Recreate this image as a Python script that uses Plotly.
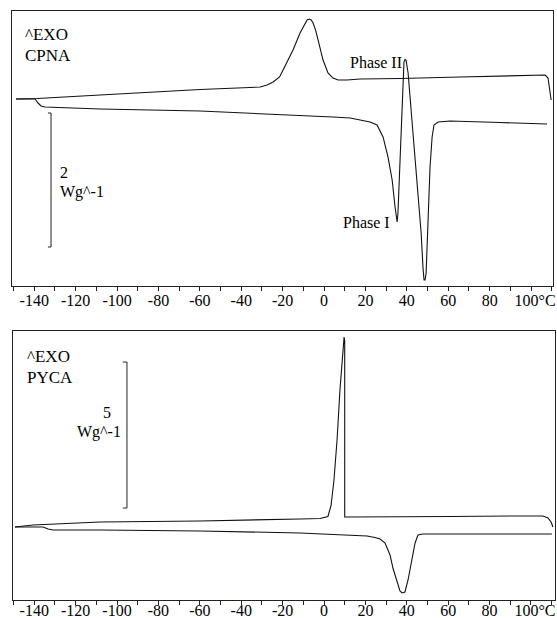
import plotly.graph_objects as go

# ---------------- data (temperature in °C, heat flow in W/g, exo up) ----------------
cpna_cool_T = [-148.8, -138.6, -108.2, -59.9, -30.9, -27.5, -24.6, -21.5, -19.8, -17.4, -15.0, -11.6,
               -9.2, -8.2, -7.2, -6.2, -5.3, -4.1, -2.9, -1.7, -0.5, 1.9, 4.3, 6.8, 11.1, 17.4, 36.7,
               65.7, 94.7, 106.8, 108.2, 109.2, 109.7]
cpna_cool_hf = [2.791, 2.799, 2.851, 2.933, 2.970, 3.000, 3.045, 3.120, 3.224, 3.370, 3.522, 3.776,
                3.925, 3.970, 3.985, 3.970, 3.925, 3.820, 3.672, 3.520, 3.373, 3.179, 3.104, 3.075, 3.075,
                3.090, 3.097, 3.119, 3.142, 3.149, 3.104, 2.925, 2.776]

cpna_heat_T = [-148.8, -139.6, -138.2, -136.7, -134.8, -108.2, -59.9, -27.5, -11.6, 4.3, 12.6, 18.4, 22.2,
               25.6, 28.5, 30.9, 32.9, 34.3, 35.3, 35.7, 37.2, 38.2, 38.6, 39.1, 39.6, 40.6, 42.5, 44.9,
               46.9, 47.8, 48.3, 48.8, 49.3, 50.2, 51.2, 52.2, 53.1, 55.1, 60.9, 85.0, 107.7]
cpna_heat_hf = [2.791, 2.791, 2.731, 2.687, 2.672, 2.642, 2.612, 2.567, 2.552, 2.522, 2.507, 2.478, 2.448,
                2.403, 2.224, 1.925, 1.582, 1.179, 0.955, 1.090, 2.179, 2.925, 3.343, 3.381, 3.373, 3.179,
                2.433, 1.537, 0.791, 0.269, 0.090, 0.090, 0.194, 0.940, 1.776, 2.224, 2.403, 2.448, 2.463,
                2.440, 2.418]

pyca_cool_T = [-149.3, -140.6, -108.2, -59.9, -11.6, -1.9, 1.9, 3.4, 4.8, 6.3, 7.7, 8.7, 9.4, 9.7, 10.0,
               10.0, 12.6, 27.1, 60.9, 91.3, 105.8, 108.2, 109.7, 110.6]
pyca_cool_hf = [2.500, 2.568, 2.671, 2.705, 2.774, 2.791, 2.860, 3.237, 4.093, 5.479, 7.192, 8.219, 8.904,
                9.007, 8.870, 2.842, 2.842, 2.842, 2.860, 2.877, 2.877, 2.808, 2.671, 2.500]

pyca_heat_T = [-149.3, -135.7, -133.3, -130.9, -108.2, -59.9, -11.6, 12.6, 20.8, 24.6, 27.1, 29.5, 31.9,
               33.3, 35.3, 36.7, 37.7, 39.1, 40.6, 42.5, 44.0, 45.4, 47.8, 56.0, 110.1]
pyca_heat_hf = [2.500, 2.500, 2.432, 2.397, 2.397, 2.363, 2.295, 2.226, 2.192, 2.140, 2.089, 1.952, 1.541,
                1.096, 0.582, 0.308, 0.240, 0.274, 0.685, 1.370, 1.952, 2.226, 2.260, 2.260, 2.260]

x_ticks = [-140, -120, -100, -80, -60, -40, -20, 0, 20, 40, 60, 80, 100]
x_ticklabels = ["-140", "-120", "-100", "-80", "-60", "-40", "-20", "0", "20", "40", "60", "80",
                "\u00a0\u00a0100°C"]

scale_top = 2.0        # W/g scale bar, CPNA panel
scale_bottom = 5.0     # W/g scale bar, PYCA panel
scale_top_pos = (-131.9, 0.582)      # (T, lower end)
scale_bottom_pos = (-95.2, 3.15)

W, H = 557, 618
FONT = "Liberation Serif, Times New Roman, serif"
LINE = dict(color="#111111", width=1.1)

fig = go.Figure()

# top panel
fig.add_trace(go.Scatter(x=cpna_cool_T, y=cpna_cool_hf, mode="lines", line=LINE, xaxis="x", yaxis="y"))
fig.add_trace(go.Scatter(x=cpna_heat_T, y=cpna_heat_hf, mode="lines", line=LINE, xaxis="x", yaxis="y"))
# bottom panel
fig.add_trace(go.Scatter(x=pyca_cool_T, y=pyca_cool_hf, mode="lines", line=LINE, xaxis="x2", yaxis="y2"))
fig.add_trace(go.Scatter(x=pyca_heat_T, y=pyca_heat_hf, mode="lines", line=LINE, xaxis="x2", yaxis="y2"))


# scale bars (bracket shape: vertical line with small ticks to the left)
def scale_bar(pos, size, tick_dx, xa, ya):
    x0, y0 = pos
    xs = [x0 - tick_dx, x0, x0, x0 - tick_dx]
    ys = [y0 + size, y0 + size, y0, y0]
    fig.add_trace(go.Scatter(x=xs, y=ys, mode="lines", line=dict(color="#222222", width=1),
                             xaxis=xa, yaxis=ya))


scale_bar(scale_top_pos, scale_top, 1.5, "x", "y")
scale_bar(scale_bottom_pos, scale_bottom, 2.0, "x2", "y2")


def px(x):
    return x / W


def py(y):
    return 1 - y / H


axis_common = dict(
    showline=True, linecolor="#222222", linewidth=1, mirror=True,
    showgrid=False, zeroline=False, automargin=False,
    ticks="outside", ticklen=4, tickcolor="#222222", tickwidth=1,
    tickvals=x_ticks, ticktext=x_ticklabels,
    tickfont=dict(family=FONT, size=16, color="black"),
    minor=dict(dtick=10, tick0=0, ticks="outside", ticklen=4, tickcolor="#222222", showgrid=False),
)
yaxis_common = dict(
    showline=True, linecolor="#222222", linewidth=1, mirror=True, automargin=False,
    showgrid=False, zeroline=False, showticklabels=False, ticks="",
)

fig.update_layout(
    width=W, height=H,
    margin=dict(l=0, r=0, t=0, b=0, autoexpand=False),
    paper_bgcolor="white", plot_bgcolor="white",
    showlegend=False,
    xaxis=dict(domain=[px(11.5), px(553)], range=[-151.0, 110.6], anchor="y",
               ticklabelstandoff=-4, **axis_common),
    yaxis=dict(domain=[py(286), py(11)], range=[0, 275 / 67], anchor="x", **yaxis_common),
    xaxis2=dict(domain=[px(12.5), px(555)], range=[-150.5, 111.6], anchor="y2",
                ticklabelstandoff=-8, **axis_common),
    yaxis2=dict(domain=[py(600), py(331)], range=[0, 269 / 29.2], anchor="x2", **yaxis_common),
)


def note(text, x, y, xanchor="left", size=16):
    fig.add_annotation(text=text, x=px(x), y=py(y), xref="paper", yref="paper",
                       xanchor=xanchor, yanchor="middle", showarrow=False,
                       font=dict(family=FONT, size=size, color="black"))


note("^EXO", 23, 34, size=17)
note("CPNA", 23, 55, size=17)
note("2", 58, 172)
note("Wg^-1", 58, 192)
note("Phase II", 404, 62, "right")
note("Phase I", 392, 222, "right")

note("^EXO", 25, 356, size=17)
note("PYCA", 25, 377, size=17)
note("5", 113, 412, "right")
note("Wg^-1", 123, 432, "right")

fig.write_html("out.html")
